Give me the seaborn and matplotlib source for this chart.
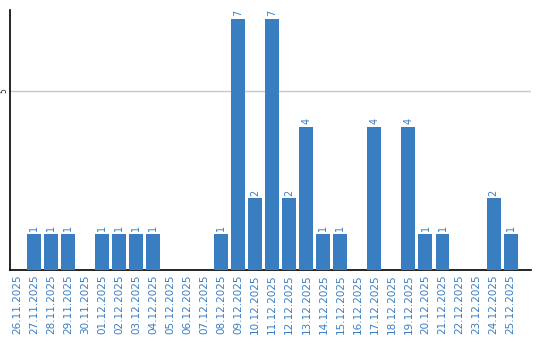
import matplotlib
matplotlib.use("Agg")
import matplotlib.pyplot as plt
import seaborn as sns
import pandas as pd

dates = ["26.11.2025", "27.11.2025", "28.11.2025", "29.11.2025", "30.11.2025",
         "01.12.2025", "02.12.2025", "03.12.2025", "04.12.2025", "05.12.2025",
         "06.12.2025", "07.12.2025", "08.12.2025", "09.12.2025", "10.12.2025",
         "11.12.2025", "12.12.2025", "13.12.2025", "14.12.2025", "15.12.2025",
         "16.12.2025", "17.12.2025", "18.12.2025", "19.12.2025", "20.12.2025",
         "21.12.2025", "22.12.2025", "23.12.2025", "24.12.2025", "25.12.2025"]
counts = [0, 1, 1, 1, 0, 1, 1, 1, 1, 0, 0, 0, 1, 7, 2, 7, 2, 4, 1, 1,
          0, 4, 0, 4, 1, 1, 0, 0, 2, 1]

df = pd.DataFrame({"date": dates, "count": counts})

sns.set_style("white")
plt.rcParams['font.family'] = ['DejaVu Sans']

BLUE = "#3a7ec2"
fig = plt.figure(figsize=(5.4, 3.4), dpi=100)
ax = fig.add_axes([10/540, 70/340, 521/540, 260/340])

sns.barplot(data=df, x="date", y="count", color=BLUE, width=0.82,
            saturation=1, ax=ax, zorder=3, linewidth=0)

for i, v in enumerate(counts):
    if v > 0:
        ax.text(i, v + 0.08, str(v), rotation=90, ha="center", va="bottom",
                fontsize=7, color=BLUE)

ax.set_ylim(0, 7.26)
ax.set_xlim(-0.41, 30.2)
ax.set_yticks([5])
ax.set_yticklabels(["5"], rotation=90, va="center", fontsize=5.5)
ax.yaxis.grid(True, color="#c8c8c8", linewidth=1, zorder=0)
ax.set_xticks(range(len(dates)))
ax.set_xticklabels(dates, rotation=90, fontsize=7.5, color=BLUE)
ax.tick_params(axis="x", length=0, pad=3)
ax.tick_params(axis="y", length=0, pad=1)
ax.set_xlabel("")
ax.set_ylabel("")
for s in ["top", "right"]:
    ax.spines[s].set_visible(False)
for s in ["left", "bottom"]:
    ax.spines[s].set_color("black")
    ax.spines[s].set_linewidth(1.2)

fig.savefig("out.png", dpi=100)
